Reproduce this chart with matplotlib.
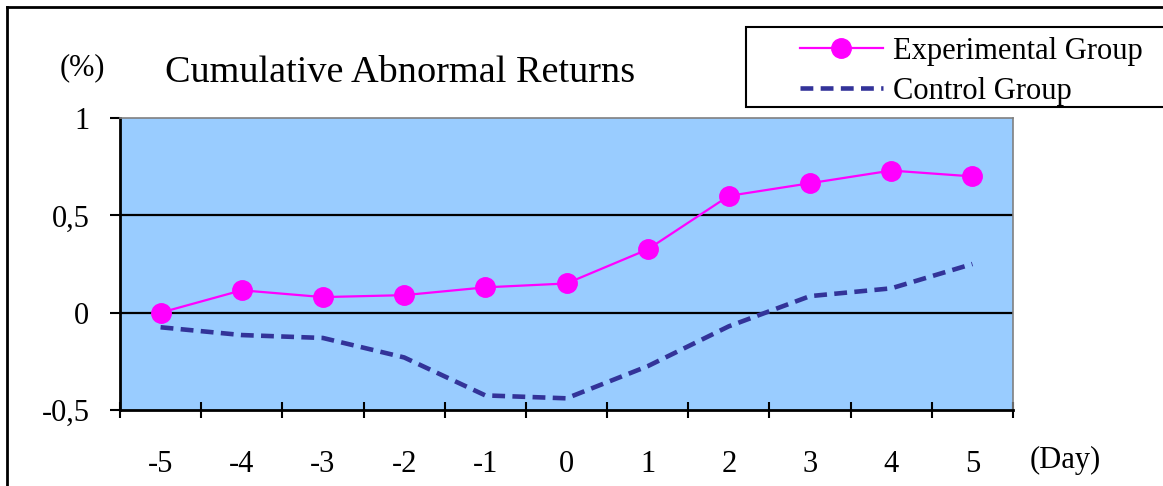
import matplotlib.pyplot as plt
from matplotlib.lines import Line2D
from matplotlib.patches import Rectangle
from matplotlib.ticker import FixedLocator

plt.rcParams['font.family'] = ['Liberation Serif', 'DejaVu Serif']

days = [-5, -4, -3, -2, -1, 0, 1, 2, 3, 4, 5]
experimental = [0.0, 0.115, 0.08, 0.09, 0.13, 0.15, 0.325, 0.60, 0.665, 0.73, 0.70]
control = [-0.075, -0.115, -0.13, -0.23, -0.425, -0.44, -0.275, -0.07, 0.085, 0.125, 0.25]
ytick_vals = [-0.5, 0, 0.5, 1]
ytick_labels = ['-0,5', '0', '0,5', '1']

fig = plt.figure(figsize=(11.63, 4.86), dpi=100)
W, H = 1163, 486
ax = fig.add_axes([120 / W, 1 - 410 / H, (1013 - 120) / W, (410 - 118) / H])
ax.set_facecolor('#99CCFF')

# outer frame of the chart (cut off at right and bottom)
fig.add_artist(Line2D([7 / W, 7 / W], [0, 1 - 7 / H], color='black', lw=2, transform=fig.transFigure))
fig.add_artist(Line2D([7 / W, 1], [1 - 7 / H, 1 - 7 / H], color='black', lw=2, transform=fig.transFigure))

for yv in [0, 0.5]:
    ax.axhline(yv, color='black', lw=1.6, zorder=1)

ax.plot(days, experimental, color='#FF00FF', lw=1.6, marker='o', markersize=14,
        label='Experimental Group', zorder=3)
ax.plot(days, control, color='#333399', lw=3.3, linestyle=(0, (2.8, 1.6)),
        label='Control Group', zorder=3)

ax.set_xlim(-5.5, 5.5)
ax.set_ylim(-0.5, 1)

ax.xaxis.set_major_locator(FixedLocator([d + 0.5 for d in [-6] + days]))
ax.xaxis.set_minor_locator(FixedLocator(days))
ax.set_xticklabels([], minor=False)
ax.set_xticklabels([str(d) for d in days], minor=True)
ax.tick_params(axis='x', which='major', direction='inout', length=12, width=1.5)
ax.tick_params(axis='x', which='minor', length=0, pad=29, labelsize=22)

ax.set_yticks(ytick_vals)
ax.set_yticklabels(ytick_labels)
ax.tick_params(axis='y', direction='out', length=7, width=1.5, pad=15, labelsize=22)

for s in ['left', 'bottom']:
    ax.spines[s].set_linewidth(2)
    ax.spines[s].set_color('black')
for s in ['top', 'right']:
    ax.spines[s].set_linewidth(1.2)
    ax.spines[s].set_color('#808080')

fig.text(165 / W, 1 - 73 / H, 'Cumulative Abnormal Returns', fontsize=27.5, va='center', ha='left')
fig.text(82 / W, 1 - 68 / H, '(%)', fontsize=22, va='center', ha='center')
fig.text(1030 / W, 1 - 460 / H, '(Day)', fontsize=22, va='center', ha='left')

# legend box (runs off the right edge)
fig.add_artist(Rectangle((746 / W, 1 - 107 / H), 0.5, 80 / H, transform=fig.transFigure,
                         facecolor='white', edgecolor='black', lw=1.5, zorder=4))
leg = fig.legend(loc='upper left', bbox_to_anchor=(800 / W, 1 - 37 / H),
                 fontsize=22, frameon=False, handlelength=2.7, handletextpad=0.33,
                 labelspacing=0.36, borderpad=0, borderaxespad=0)
leg.set_zorder(5)

fig.savefig('out.png', dpi=100)
